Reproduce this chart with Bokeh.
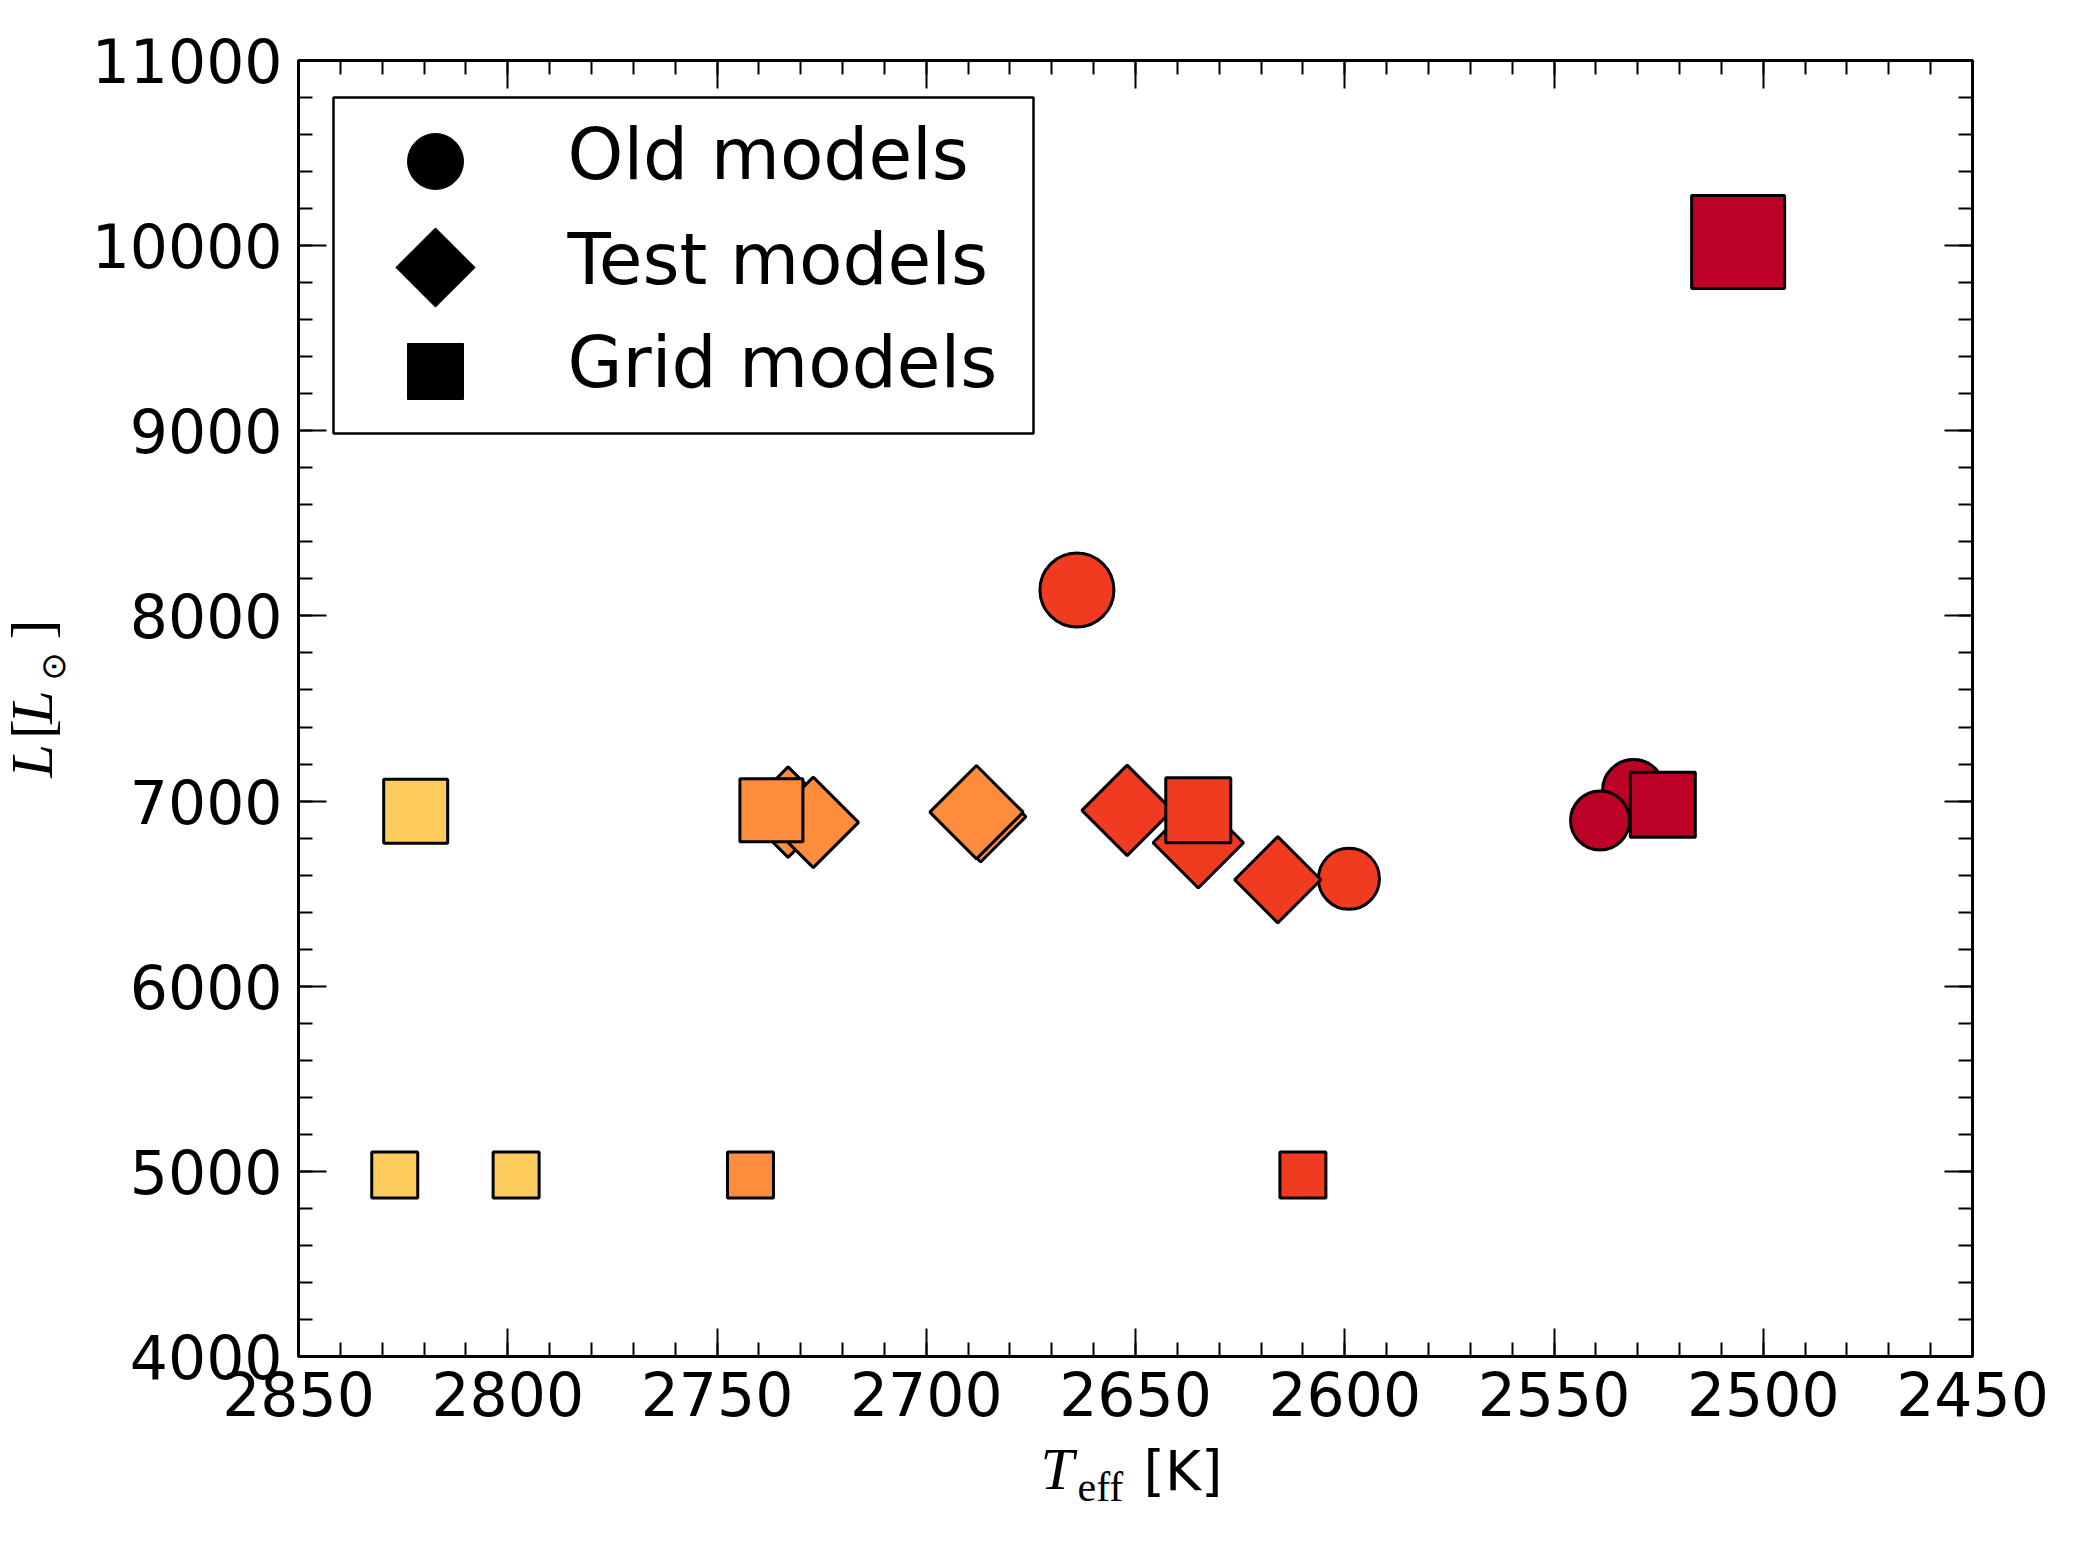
import numpy as np
from bokeh.plotting import figure
from bokeh.layouts import column, row
from bokeh.models import (Range1d, LinearAxis, SingleIntervalTicker,
                          CustomJSTickFormatter, ColumnDataSource)
from bokeh.core.properties import value
from bokeh.embed import file_html
from bokeh.resources import INLINE

# ---------------- data ----------------
palette = ["#fecc5c", "#fd8d3c", "#f03b20", "#bd0026"]

old_teff = [2531, 2539, 2664, 2599]
old_lum = [7057, 6895, 8140, 6580]
old_group = [3, 3, 2, 2]
old_size = [62, 59, 74, 61]

test_teff = [2733, 2727, 2687, 2688, 2635, 2652, 2616]
test_lum = [6940, 6885, 6915, 6940, 6775, 6950, 6575]
test_group = [1, 1, 1, 1, 2, 2, 2]
test_size = [64, 64, 64, 66, 64, 64, 61]

grid_teff = [2822, 2827, 2798, 2742, 2610, 2737, 2635, 2524, 2506]
grid_lum = [6945, 4980, 4980, 4980, 4980, 6950, 6950, 6980, 10020]
grid_group = [0, 0, 0, 1, 2, 1, 2, 3, 3]
grid_size = [64, 46, 46, 46, 46, 63, 65, 65, 93]

legend_labels = ["Old models", "Test models", "Grid models"]

x_start, x_end = 2850, 2450
y_start, y_end = 4000, 11000

# ---------------- layout sizes ----------------
W, H = 2075, 1553
YLAB_W = 80
FW, FH = 1674, 1296
B_LEFT, B_RIGHT, B_TOP, B_BOTTOM = 298 - YLAB_W, 103, 60, 90
P_H = B_TOP + FH + B_BOTTOM
OVERLAP = 40
XLAB_H = H - P_H + OVERLAP

# ---------------- main figure ----------------
p = figure(frame_width=FW, frame_height=FH,
           min_border_left=B_LEFT, min_border_right=B_RIGHT,
           min_border_top=B_TOP, min_border_bottom=B_BOTTOM,
           x_range=Range1d(x_start, x_end), y_range=Range1d(y_start, y_end),
           output_backend="svg", toolbar_location=None,
           background_fill_color="white", border_fill_color="white")
p.xgrid.visible = False
p.ygrid.visible = False
p.outline_line_color = "black"
p.outline_line_width = 3

def style_axis(ax, interval, show_labels=True):
    ax.ticker = SingleIntervalTicker(interval=interval, num_minor_ticks=5)
    ax.axis_line_width = 3
    ax.axis_line_color = "black"
    ax.major_tick_in = 28
    ax.major_tick_out = 0
    ax.minor_tick_in = 14
    ax.minor_tick_out = 0
    ax.major_tick_line_width = 2
    ax.minor_tick_line_width = 2
    ax.major_tick_line_color = "black"
    ax.minor_tick_line_color = "black"
    ax.major_label_text_font = "DejaVu Sans"
    ax.major_label_text_font_size = "60px"
    ax.major_label_text_color = "black"
    if not show_labels:
        ax.formatter = CustomJSTickFormatter(code="return ''")

style_axis(p.xaxis[0], 50)
p.xaxis[0].major_label_standoff = 14
style_axis(p.yaxis[0], 1000)
p.yaxis[0].major_label_standoff = 16

top_ax = LinearAxis()
style_axis(top_ax, 50, show_labels=False)
p.add_layout(top_ax, "above")
right_ax = LinearAxis()
style_axis(right_ax, 1000, show_labels=False)
p.add_layout(right_ax, "right")

# ---------------- data markers ----------------
def src(teff, lum, group, size):
    return ColumnDataSource(dict(teff=teff, lum=lum, size=size,
                                 color=[palette[g] for g in group]))

p.scatter("teff", "lum", source=src(old_teff, old_lum, old_group, old_size),
          marker="circle", size="size", fill_color="color",
          line_color="black", line_width=3)
p.scatter("teff", "lum", source=src(test_teff, test_lum, test_group, test_size),
          marker="square", angle=np.pi / 4, size="size", fill_color="color",
          line_color="black", line_width=3)
p.scatter("teff", "lum", source=src(grid_teff, grid_lum, grid_group, grid_size),
          marker="square", size="size", fill_color="color",
          line_color="black", line_width=3)

# ---------------- legend (pixel coordinates inside the frame) ----------------
p.extra_x_ranges = {"px": Range1d(0, FW)}
p.extra_y_ranges = {"px": Range1d(FH, 0)}

p.quad(left=[35], right=[735], top=[37], bottom=[373],
       x_range_name="px", y_range_name="px",
       fill_color="white", line_color="black", line_width=2.5)
p.scatter(x=[137, 137, 137], y=[101, 207, 311],
          marker=["circle", "square", "square"], angle=[0, np.pi / 4, 0],
          size=[56, 56, 56], fill_color="black", line_color="black",
          line_width=1, x_range_name="px", y_range_name="px")
p.text(x=[269, 269, 269], y=[94, 199, 302], text=legend_labels,
       text_font=value("DejaVu Sans"), text_font_size="71px",
       text_baseline="alphabetic", text_align="left", text_color="black",
       x_range_name="px", y_range_name="px")

# ---------------- axis-label strips (pixel coordinates) ----------------
def strip(w, h, x0, y0, **kw):
    f = figure(width=w, height=h, x_range=Range1d(x0, x0 + w),
               y_range=Range1d(y0 + h, y0), x_axis_type=None, y_axis_type=None,
               min_border=0, output_backend="svg", toolbar_location=None,
               background_fill_color=None, border_fill_color=None, **kw)
    f.outline_line_color = None
    f.xgrid.visible = False
    f.ygrid.visible = False
    return f

def put(f, txt, x, y, font, size, style="normal", angle=0.0):
    f.text(x=[x], y=[y], text=[txt], text_font=value(font),
           text_font_size=f"{size}px", text_font_style=style,
           text_color="black", text_baseline="alphabetic", text_align="left",
           angle=angle)

OFF = 0.4  # empirical anchor-to-baseline offset (em)

# y label: L[L_sun], reading bottom to top
ylab = strip(YLAB_W, P_H, 0, 0)
r = np.pi / 2
put(ylab, "L", 55 - OFF * 60, 800, "Liberation Serif", 60, "italic", r)
put(ylab, "[", 55 - OFF * 60, 757, "Liberation Serif", 60, "normal", r)
put(ylab, "L", 55 - OFF * 60, 740, "Liberation Serif", 60, "italic", r)
put(ylab, "\u2299", 66 - OFF * 34, 692, "DejaVu Sans", 34, "normal", r)
put(ylab, "]", 55 - OFF * 60, 646, "Liberation Serif", 60, "normal", r)

# x label: T_eff [K]  (strip overlaps the empty bottom border of the main plot)
xlab = strip(W, XLAB_H, 0, P_H - OVERLAP, margin=(-OVERLAP, 0, 0, 0))
put(xlab, "T", 1040, 1492 - OFF * 60, "Liberation Serif", 60, "italic")
put(xlab, "eff", 1077, 1503 - OFF * 42, "Liberation Serif", 42)
put(xlab, "[K]", 1143, 1492 - OFF * 55, "DejaVu Sans", 55)

layout = column(row(ylab, p), xlab)
open("out.html", "w").write(file_html(layout, INLINE))
